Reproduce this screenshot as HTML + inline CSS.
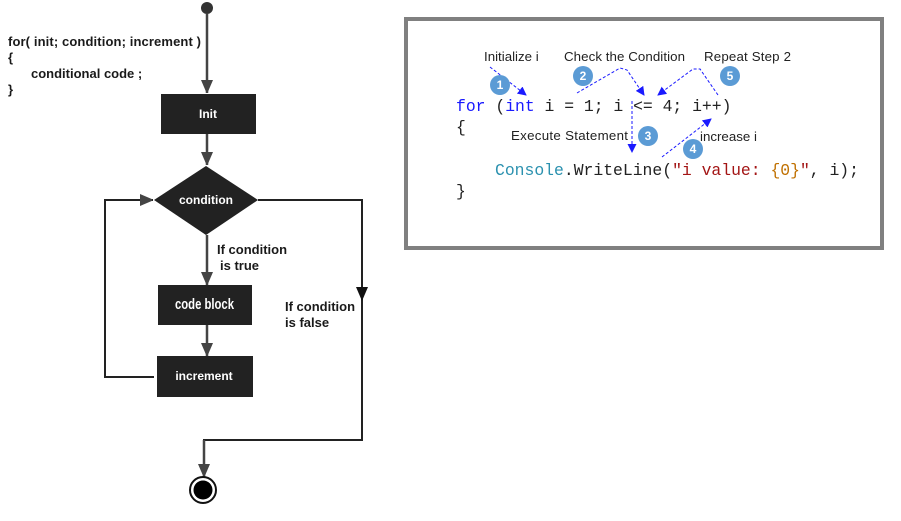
<!DOCTYPE html>
<html><head><meta charset="utf-8"><style>
html,body{margin:0;padding:0;background:#fff;}
svg{display:block}
.b{font-family:"Liberation Sans",Arial,sans-serif;font-weight:bold;font-size:13px;fill:#1a1a1a}
.w{font-family:"Liberation Sans",Arial,sans-serif;font-weight:bold;font-size:12px;fill:#fff}
.m{font-family:"Liberation Mono","Courier New",monospace;font-size:16.4px}
.a{font-family:"Liberation Sans",sans-serif;font-size:13.3px;fill:#222}
.n{font-family:"Liberation Sans",sans-serif;font-weight:bold;font-size:12px;fill:#fff}
</style></head><body>
<svg width="901" height="521" viewBox="0 0 901 521" xmlns="http://www.w3.org/2000/svg">
<defs>
<marker id="ah" markerWidth="12" markerHeight="12" refX="13" refY="6" orient="auto" markerUnits="userSpaceOnUse"><path d="M0,0 L14,6 L0,12z" fill="#444"/></marker>
<marker id="bh" markerWidth="9" markerHeight="9" refX="8" refY="4.5" orient="auto" markerUnits="userSpaceOnUse"><path d="M0,0 L9,4.5 L0,9z" fill="#1a1aff"/></marker>
</defs>
<text class="b" x="8" y="46" textLength="193">for( init; condition; increment )</text>
<text class="b" x="8" y="62">{</text>
<text class="b" x="31" y="78">conditional code ;</text>
<text class="b" x="8" y="94">}</text>
<circle cx="207" cy="8" r="6" fill="#333"/>
<line x1="207" y1="14" x2="207" y2="93" stroke="#444" stroke-width="2.5" marker-end="url(#ah)"/>
<rect x="161" y="94" width="95" height="40" fill="#222"/>
<text class="w" x="208" y="118" text-anchor="middle">Init</text>
<line x1="207" y1="134" x2="207" y2="165" stroke="#444" stroke-width="2.5" marker-end="url(#ah)"/>
<polygon points="206,166 258,200 206,235 154,200" fill="#222"/>
<text class="w" x="206" y="204" text-anchor="middle">condition</text>
<line x1="207" y1="235" x2="207" y2="285" stroke="#444" stroke-width="2.5" marker-end="url(#ah)"/>
<text class="b" x="217" y="254">If condition</text>
<text class="b" x="220" y="270">is true</text>
<rect x="158" y="285" width="94" height="40" fill="#222"/>
<text x="175" y="309" textLength="59" lengthAdjust="spacingAndGlyphs" style="font-family:'Liberation Sans',sans-serif;font-weight:bold;font-size:15px;fill:#fff">code block</text>
<line x1="207" y1="325" x2="207" y2="356" stroke="#444" stroke-width="2.5" marker-end="url(#ah)"/>
<rect x="157" y="356" width="96" height="41" fill="#222"/>
<text class="w" x="204" y="380" text-anchor="middle">increment</text>
<polyline points="154,377 105,377 105,200 153,200" fill="none" stroke="#222" stroke-width="2" marker-end="url(#ah)"/>
<polyline points="258,200 362,200 362,440 204,440 204,477" fill="none" stroke="#222" stroke-width="2"/>
<line x1="204" y1="440" x2="204" y2="477" stroke="#444" stroke-width="2.5" marker-end="url(#ah)"/>
<path d="M356,287 L368,287 L362,301z" fill="#111"/>
<text class="b" x="285" y="311">If condition</text>
<text class="b" x="285" y="327">is false</text>
<circle cx="203" cy="490" r="13" fill="#fff" stroke="#111" stroke-width="2"/>
<circle cx="203" cy="490" r="9.5" fill="#000"/>
<rect x="406" y="19" width="476" height="229" fill="#fff" stroke="#808080" stroke-width="4"/>
<text class="a" x="484" y="61">Initialize i</text>
<text class="a" x="564" y="61" textLength="121">Check the Condition</text>
<text class="a" x="704" y="61" textLength="87">Repeat Step 2</text>
<text class="a" x="511" y="140" textLength="117">Execute Statement</text>
<text class="a" x="700" y="141">increase i</text>
<text class="m" x="456" y="111"><tspan fill="#1a1aff">for</tspan><tspan fill="#222"> (</tspan><tspan fill="#1a1aff">int</tspan><tspan fill="#222"> i = 1; i &lt;= 4; i++)</tspan></text>
<text class="m" x="456" y="132" fill="#222">{</text>
<text class="m" x="495" y="175"><tspan fill="#2b91af">Console</tspan><tspan fill="#222">.WriteLine(</tspan><tspan fill="#a31515">"i value: </tspan><tspan fill="#c07000">{0}</tspan><tspan fill="#a31515">"</tspan><tspan fill="#222">, i);</tspan></text>
<text class="m" x="456" y="196" fill="#222">}</text>
<g fill="none" stroke="#1a1aff" stroke-width="1" stroke-dasharray="3,2">
<line x1="490" y1="67" x2="526" y2="95" marker-end="url(#bh)"/>
<polyline points="577,93 620,68 627,70 644,95" marker-end="url(#bh)"/>
<polyline points="718,95 700,69 693,69 658,95" marker-end="url(#bh)"/>
<line x1="632" y1="101" x2="632" y2="152" marker-end="url(#bh)"/>
<line x1="662" y1="157" x2="711" y2="119" marker-end="url(#bh)"/>
</g>
<g fill="#5b9bd5">
<circle cx="500" cy="85" r="10"/><circle cx="583" cy="76" r="10"/><circle cx="648" cy="136" r="10"/><circle cx="693" cy="149" r="10"/><circle cx="730" cy="76" r="10"/>
</g>
<text class="n" x="500" y="89" text-anchor="middle">1</text>
<text class="n" x="583" y="80" text-anchor="middle">2</text>
<text class="n" x="648" y="140" text-anchor="middle">3</text>
<text class="n" x="693" y="153" text-anchor="middle">4</text>
<text class="n" x="730" y="80" text-anchor="middle">5</text>
</svg>
</body></html>
